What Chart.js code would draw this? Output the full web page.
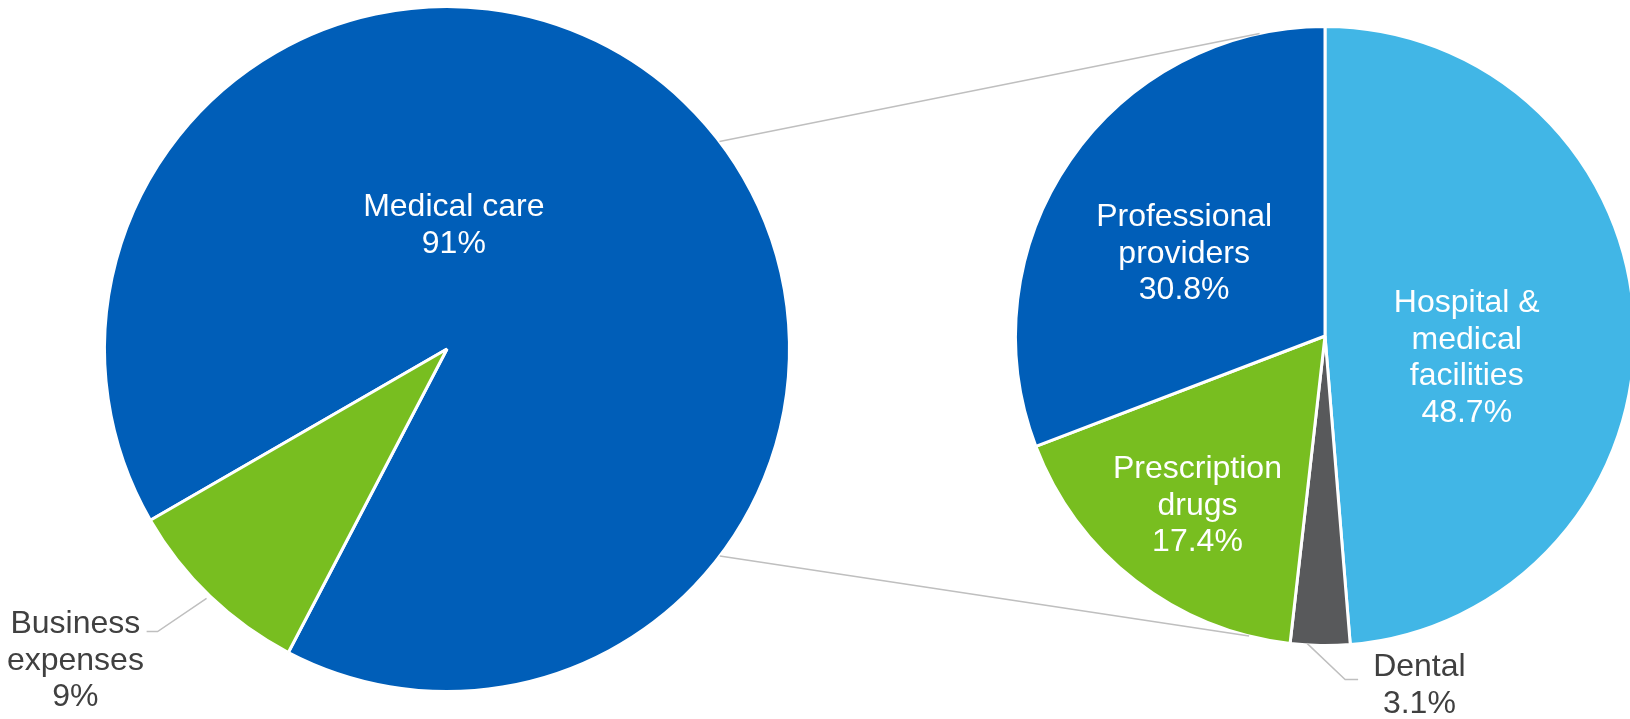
<!DOCTYPE html>
<html>
<head>
<meta charset="utf-8">
<script src="https://cdn.jsdelivr.net/npm/chart.js@4.4.1/dist/chart.umd.min.js"></script>
<style>
    html, body { margin: 0; padding: 0; background: #ffffff; overflow: hidden; }
    #wrap { position: relative; width: 1630px; height: 719px; overflow: hidden; }
    canvas { position: absolute; left: 0; top: 0; }
</style>
</head>
<body>
<div id="wrap">
    <canvas id="mainPie" width="1630" height="719"></canvas>
    <canvas id="detailPie" width="1640" height="719"></canvas>
</div>
<script>
// Main pie: total spending split
const mainCategories = ['Medical care', 'Business expenses'];
const mainValues = [91, 9];
const mainLabelLines = [['Medical care'], ['Business', 'expenses']];
const mainColors = ['#005EB8', '#78BE20'];

// Breakdown of medical care
const detailCategories = ['Hospital & medical facilities', 'Dental', 'Prescription drugs', 'Professional providers'];
const detailValues = [48.7, 3.1, 17.4, 30.8];
const detailLabelLines = [['Hospital &', 'medical', 'facilities'], ['Dental'], ['Prescription', 'drugs'], ['Professional', 'providers']];
const detailColors = ['#41B6E6', '#58595B', '#78BE20', '#005EB8'];

const FONT = '32px "Liberation Sans", Arial, Helvetica, sans-serif';
const LINE_HEIGHT = 36.5;

// Draws the slice labels (and leader lines for outside labels)
const sliceLabels = {
    id: 'sliceLabels',
    afterDatasetsDraw(chart, args, opts) {
        const meta = chart.getDatasetMeta(0);
        if (!meta.data.length) return;
        const arc = meta.data[0];
        const cx = arc.x, cy = arc.y, r = arc.outerRadius;
        const values = chart.data.datasets[0].data;
        const ctx = chart.ctx;
        ctx.save();

        // leader lines first
        ctx.strokeStyle = '#BFBFBF';
        ctx.lineWidth = 1.5;
        (opts.leaders || []).forEach(pts => {
            if (!pts) return;
            ctx.beginPath();
            pts.forEach((p, j) => {
                const px = cx + p[0] * r, py = cy + p[1] * r;
                if (j === 0) ctx.moveTo(px, py); else ctx.lineTo(px, py);
            });
            ctx.stroke();
        });

        ctx.font = FONT;
        ctx.textAlign = 'center';
        ctx.textBaseline = 'alphabetic';
        opts.lines.forEach((lines, i) => {
            const all = lines.concat([values[i] + '%']);
            const x = cx + opts.anchors[i][0] * r;
            const y = cy + opts.anchors[i][1] * r;
            ctx.fillStyle = opts.colors[i];
            all.forEach((t, j) => {
                const by = y + (j - (all.length - 1) / 2) * LINE_HEIGHT + 11;
                ctx.fillText(t, x, by);
            });
        });
        ctx.restore();
    }
};

// Connector lines between the two pies
const connectors = {
    id: 'connectors',
    afterDatasetsDraw(chart, args, opts) {
        const mainMeta = mainChart.getDatasetMeta(0);
        const detMeta = chart.getDatasetMeta(0);
        if (!mainMeta.data.length || !detMeta.data.length) return;
        const a = mainMeta.data[0], b = detMeta.data[0];
        const ctx = chart.ctx;
        ctx.save();
        ctx.strokeStyle = '#BFBFBF';
        ctx.lineWidth = 1.5;
        opts.pairs.forEach(([angA, angB]) => {
            const ra = angA * Math.PI / 180, rb = angB * Math.PI / 180;
            ctx.beginPath();
            ctx.moveTo(a.x + Math.cos(ra) * a.outerRadius, a.y + Math.sin(ra) * a.outerRadius);
            ctx.lineTo(b.x + Math.cos(rb) * b.outerRadius, b.y + Math.sin(rb) * b.outerRadius);
            ctx.stroke();
        });
        ctx.restore();
    }
};

const mainChart = new Chart(document.getElementById('mainPie').getContext('2d'), {
    type: 'pie',
    data: {
        labels: mainCategories,
        datasets: [{
            data: mainValues,
            backgroundColor: mainColors,
            borderColor: '#ffffff',
            borderWidth: 3
        }]
    },
    options: {
        responsive: false,
        animation: false,
        rotation: 240,
        layout: { padding: { left: 103, top: 5, right: 839, bottom: 26 } },
        plugins: {
            legend: { display: false },
            tooltip: { enabled: false },
            sliceLabels: {
                lines: mainLabelLines,
                anchors: [[0.02, -0.367], [-1.085, 0.904]],
                colors: ['#ffffff', '#404040'],
                leaders: [null, [[-0.702, 0.728], [-0.845, 0.825], [-0.877, 0.825]]]
            }
        }
    },
    plugins: [sliceLabels]
});

const detailChart = new Chart(document.getElementById('detailPie').getContext('2d'), {
    type: 'pie',
    data: {
        labels: detailCategories,
        datasets: [{
            data: detailValues,
            backgroundColor: detailColors,
            borderColor: '#ffffff',
            borderWidth: 3
        }]
    },
    options: {
        responsive: false,
        animation: false,
        rotation: 0,
        layout: { padding: { left: 1014, top: 25, right: 4, bottom: 72 } },
        plugins: {
            legend: { display: false },
            tooltip: { enabled: false },
            connectors: { pairs: [[-37.3, -102.2], [37.2, 104.2]] },
            sliceLabels: {
                lines: detailLabelLines,
                anchors: [[0.458, 0.065], [0.305, 1.123], [-0.412, 0.542], [-0.455, -0.273]],
                colors: ['#ffffff', '#404040', '#ffffff', '#ffffff'],
                leaders: [null, [[-0.058, 0.993], [0.065, 1.110], [0.107, 1.110]], null, null]
            }
        }
    },
    plugins: [connectors, sliceLabels]
});
</script>
</body>
</html>
